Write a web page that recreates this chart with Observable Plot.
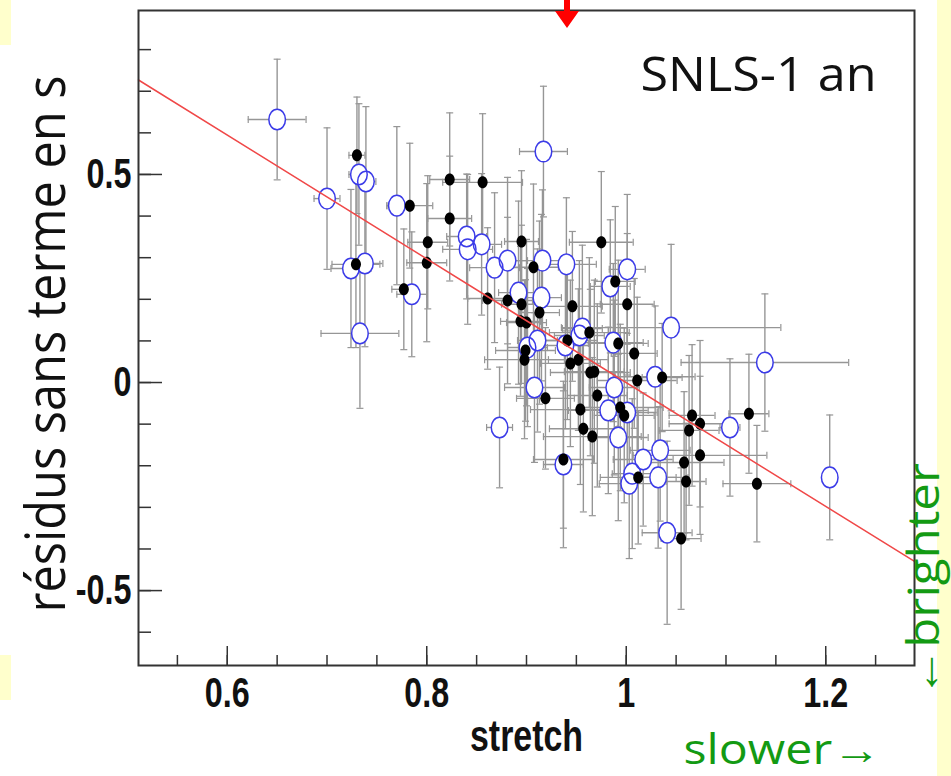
<!DOCTYPE html>
<html><head><meta charset="utf-8">
<script src="https://cdn.jsdelivr.net/npm/d3@7"></script>
<script src="https://cdn.jsdelivr.net/npm/@observablehq/plot@0.6"></script>
<style>
html,body{margin:0;padding:0;background:#fff;}
#wrap{position:relative;width:951px;height:776px;overflow:hidden;background:#fff;}
.yel{position:absolute;background:#ffffcc;}
#chart{position:absolute;left:0;top:0;}
#deco{position:absolute;left:0;top:0;}
</style></head><body>
<div id="wrap">
  <div class="yel" style="left:937px;top:0;width:14px;height:776px"></div>
  <div class="yel" style="left:0;top:0;width:11px;height:45px"></div>
  <div class="yel" style="left:0;top:655px;width:11px;height:45px"></div>
  <div id="chart"></div>
  <svg id="deco" width="951" height="776"><path d="M564,0 L570,0 L570,11 L579,11 L567,28 L555,11 L564,11 Z" fill="#f00"/></svg>
</div>
<script>
// ---- data ----
const blackX = [0.730,0.783,0.823,0.823,0.801,0.800,0.729,0.777,0.856,0.895,0.907,0.975,0.989,0.861,0.881,0.895,0.913,0.946,1.001,0.894,0.900,0.941,0.963,0.992,1.008,0.899,0.898,0.944,0.952,0.964,0.968,1.011,1.036,0.919,0.954,0.957,0.966,0.971,0.994,0.998,0.937,1.012,1.055,1.058,1.060,1.074,1.066,1.074,1.063,1.123,1.131];
const blackY = [0.546,0.425,0.488,0.394,0.337,0.288,0.284,0.224,0.481,0.339,0.277,0.337,0.243,0.202,0.197,0.188,0.168,0.183,0.188,0.147,0.144,0.101,0.120,0.094,0.070,0.077,0.055,0.046,0.055,0.024,0.026,0.005,0.012,-0.038,-0.065,-0.111,-0.130,-0.031,-0.060,-0.079,-0.185,-0.228,-0.375,-0.192,-0.238,-0.175,-0.079,-0.099,-0.115,-0.075,-0.243];
const blackEx = [.008,.023,.02,.022,.02,.02,.024,.012,.04,.017,.025,.032,.02,.02,.025,.02,.02,.03,.027,.02,.02,.03,.04,.03,.023,.03,.04,.03,.03,.04,.03,.04,.02,.029,.05,.034,.049,.03,.043,.03,.03,.038,.02,.04,.02,.067,.023,.031,.03,.02,.034];
const blackEy = [.14,.15,.16,.15,.16,.19,.2,.145,.165,.17,.2,.17,.18,.17,.2,.19,.22,.18,.17,.18,.2,.19,.18,.2,.18,.17,.19,.2,.17,.2,.22,.2,.13,.17,.18,.2,.19,.22,.2,.21,.165,.16,.17,.17,.14,.19,.17,.2,.18,.143,.14];

const blueX = [0.650,0.732,0.739,0.700,0.770,0.724,0.738,0.785,0.733,0.917,0.840,0.841,0.855,0.868,0.881,0.916,0.940,1.001,0.984,0.892,0.915,1.045,0.911,0.939,0.956,0.953,0.987,0.901,0.908,0.873,0.982,1.001,0.992,0.988,1.029,0.937,1.017,1.034,1.006,1.003,1.032,1.041,1.104,1.139,1.204];
const blueY = [0.632,0.500,0.483,0.442,0.425,0.274,0.286,0.212,0.118,0.555,0.351,0.320,0.332,0.276,0.293,0.293,0.284,0.272,0.231,0.216,0.204,0.132,0.101,0.089,0.130,0.113,0.096,0.084,-0.012,-0.108,-0.067,-0.072,-0.132,-0.012,0.014,-0.197,-0.185,-0.163,-0.219,-0.243,-0.228,-0.361,-0.108,0.048,-0.228];
const blueEx = [.029,.01,.01,.013,.01,.02,.018,.015,.039,.024,.02,.025,.02,.025,.02,.03,.03,.018,.02,.02,.02,.11,.02,.025,.02,.025,.03,.02,.03,.013,.04,.03,.03,.025,.04,.02,.03,.03,.02,.03,.03,.025,.01,.084,.005];
const blueEy = [.145,.17,.18,.17,.19,.19,.2,.15,.18,.157,.15,.18,.17,.18,.2,.17,.16,.18,.16,.22,.2,.2,.22,.2,.2,.18,.19,.19,.18,.145,.2,.19,.2,.21,.17,.2,.16,.17,.18,.18,.17,.22,.165,.165,.15];

// fitted line endpoints (read at the frame edges)
const fitX = [0.511, 1.289];
const fitY = [0.727, -0.430];

const xDomain = [0.511, 1.289];
const yDomain = [-0.680, 0.894];
const xMajor = [0.6, 0.8, 1, 1.2];
const xMinor = [0.55,0.6,0.65,0.7,0.75,0.8,0.85,0.9,0.95,1,1.05,1.1,1.15,1.2,1.25];
const yMajor = [0.5, 0, -0.5];
const yMinor = [-0.6,-0.5,-0.4,-0.3,-0.2,-0.1,0,0.1,0.2,0.3,0.4,0.5,0.6,0.7,0.8];

const xTitle = "stretch";
const yTitle = "résidus sans terme en s";
const tag = "SNLS-1 an";
const slowerTxt = "slower\u2192";
const brighterTxt = "\u2190brighter";

// ---- tables ----
const black = blackX.map((x, i) => ({x, y: blackY[i], ex: blackEx[i], ey: blackEy[i]}));
const blue = blueX.map((x, i) => ({x, y: blueY[i], ex: blueEx[i], ey: blueEy[i]}));
const all = blue.concat(black);
const fit = fitX.map((x, i) => ({x, y: fitY[i]}));

// ---- symbols ----
function ellipse(rx, ry) {
  const k = 0.5523;
  return {draw(c) {
    c.moveTo(rx, 0);
    c.bezierCurveTo(rx, ry*k, rx*k, ry, 0, ry);
    c.bezierCurveTo(-rx*k, ry, -rx, ry*k, -rx, 0);
    c.bezierCurveTo(-rx, -ry*k, -rx*k, -ry, 0, -ry);
    c.bezierCurveTo(rx*k, -ry, rx, -ry*k, rx, 0);
    c.closePath();
  }};
}
const hcap = {draw(c) { c.moveTo(-3.5, 0); c.lineTo(3.5, 0); }};
const vcap = {draw(c) { c.moveTo(0, -3.5); c.lineTo(0, 3.5); }};

const errColor = "#969696";
const green = "#139a13";
const comic = "'Comic Sans MS', 'Open Sans', 'Noto Sans', sans-serif";
const bold = "'Liberation Sans', Arial, Helvetica, sans-serif";

const chart = Plot.plot({
  width: 951, height: 776,
  marginLeft: 138, marginRight: 37, marginTop: 10, marginBottom: 111,
  x: {domain: xDomain, axis: null, label: null},
  y: {domain: yDomain, axis: null, label: null},
  style: {background: "transparent", fontFamily: bold, overflow: "visible"},
  marks: [
    // error bars
    Plot.ruleX(all, {x: "x", y1: d => d.y - d.ey, y2: d => d.y + d.ey, stroke: errColor, strokeWidth: 1.4}),
    Plot.ruleY(all, {y: "y", x1: d => d.x - d.ex, x2: d => d.x + d.ex, stroke: errColor, strokeWidth: 1.4}),
    Plot.dot(all, {x: "x", y: d => d.y + d.ey, symbol: hcap, r: 1, stroke: errColor, strokeWidth: 1.2, fill: "none"}),
    Plot.dot(all, {x: "x", y: d => d.y - d.ey, symbol: hcap, r: 1, stroke: errColor, strokeWidth: 1.2, fill: "none"}),
    Plot.dot(all, {x: d => d.x + d.ex, y: "y", symbol: vcap, r: 1, stroke: errColor, strokeWidth: 1.2, fill: "none"}),
    Plot.dot(all, {x: d => d.x - d.ex, y: "y", symbol: vcap, r: 1, stroke: errColor, strokeWidth: 1.2, fill: "none"}),
    // blue open markers
    Plot.dot(blue, {x: "x", y: "y", symbol: ellipse(8.3, 10.3), r: 1, fill: "white", stroke: "none"}),
    Plot.dot(blue, {x: "x", y: "y", symbol: ellipse(8.3, 10.3), r: 1, fill: "none", stroke: "#3b3be8", strokeWidth: 1.5}),
    // black filled markers
    Plot.dot(black, {x: "x", y: "y", symbol: ellipse(5, 6), r: 1, fill: "black", stroke: "none"}),
    // fit line
    Plot.line(fit, {x: "x", y: "y", stroke: "#f04848", strokeWidth: 1.5}),
    // frame
    Plot.frame({stroke: "#333", strokeWidth: 2}),
    // ticks (inside the frame)
    Plot.axisY(yMinor, {anchor: "right", frameAnchor: "left", tickSize: 12, stroke: "#333", strokeWidth: 1.5, fill: "none", label: null}),
    Plot.axisY(yMajor, {anchor: "right", frameAnchor: "left", tickSize: 23, stroke: "#333", strokeWidth: 1.5, fill: "none", label: null}),
    Plot.axisX(xMinor, {anchor: "top", frameAnchor: "bottom", tickSize: 11, stroke: "#333", strokeWidth: 1.5, fill: "none", label: null}),
    Plot.axisX(xMajor, {anchor: "top", frameAnchor: "bottom", tickSize: 20, stroke: "#333", strokeWidth: 1.5, fill: "none", label: null}),
    // tick labels
    Plot.axisY(yMajor, {anchor: "left", tickSize: 0, tickPadding: 7, tickFormat: d => String(d), fontSize: 42, fontWeight: "bold", fill: "#111", label: null}),
    Plot.axisX(xMajor, {anchor: "bottom", tickSize: 0, tickPadding: 12, tickFormat: d => String(d), fontSize: 42, fontWeight: "bold", fill: "#111", label: null}),
    // titles & annotations
    Plot.text([xTitle], {text: d => d, frameAnchor: "bottom", dy: 85, lineAnchor: "bottom", textAnchor: "middle", fontSize: 44, fontWeight: "bold", fill: "#111", ariaLabel: () => "xtitle"}),
    Plot.text([yTitle], {text: d => d, frameAnchor: "left", dx: -74, dy: 6, rotate: -90, lineAnchor: "bottom", textAnchor: "middle", fontSize: 55, fontFamily: comic, fill: "#111", ariaLabel: () => "ytitle"}),
    Plot.text([tag], {text: d => d, frameAnchor: "top-right", dx: -38, dy: 80, lineAnchor: "bottom", textAnchor: "end", fontSize: 48, fontFamily: comic, fill: "#111", ariaLabel: () => "tag"}),
    Plot.text([slowerTxt], {text: d => d, frameAnchor: "bottom", dx: 157, dy: 98, lineAnchor: "bottom", textAnchor: "start", fontSize: 42, fontFamily: comic, fill: green, ariaLabel: () => "slower"}),
    Plot.text([brighterTxt], {text: d => d, frameAnchor: "right", dx: 24, dy: 242, rotate: -90, lineAnchor: "bottom", textAnchor: "middle", fontSize: 44, fontFamily: comic, fill: green, ariaLabel: () => "brighter"})
  ]
});
document.getElementById("chart").appendChild(chart);

function setLen(key, len) {
  const els = chart.querySelectorAll(`text[aria-label="${key}"], [aria-label="${key}"] text`);
  els.forEach(t => {
    const w = t.getComputedTextLength();
    const L = typeof len === "function" ? len(w) : len;
    t.setAttribute("textLength", L);
    t.setAttribute("lengthAdjust", "spacingAndGlyphs");
  });
}
setLen("x-axis tick label", w => w * 0.77);
setLen("y-axis tick label", w => w * 0.77);
setLen("xtitle", 113);
setLen("ytitle", 537);
setLen("tag", 236);
setLen("slower", 197);
setLen("brighter", 234);
</script>
</body></html>
